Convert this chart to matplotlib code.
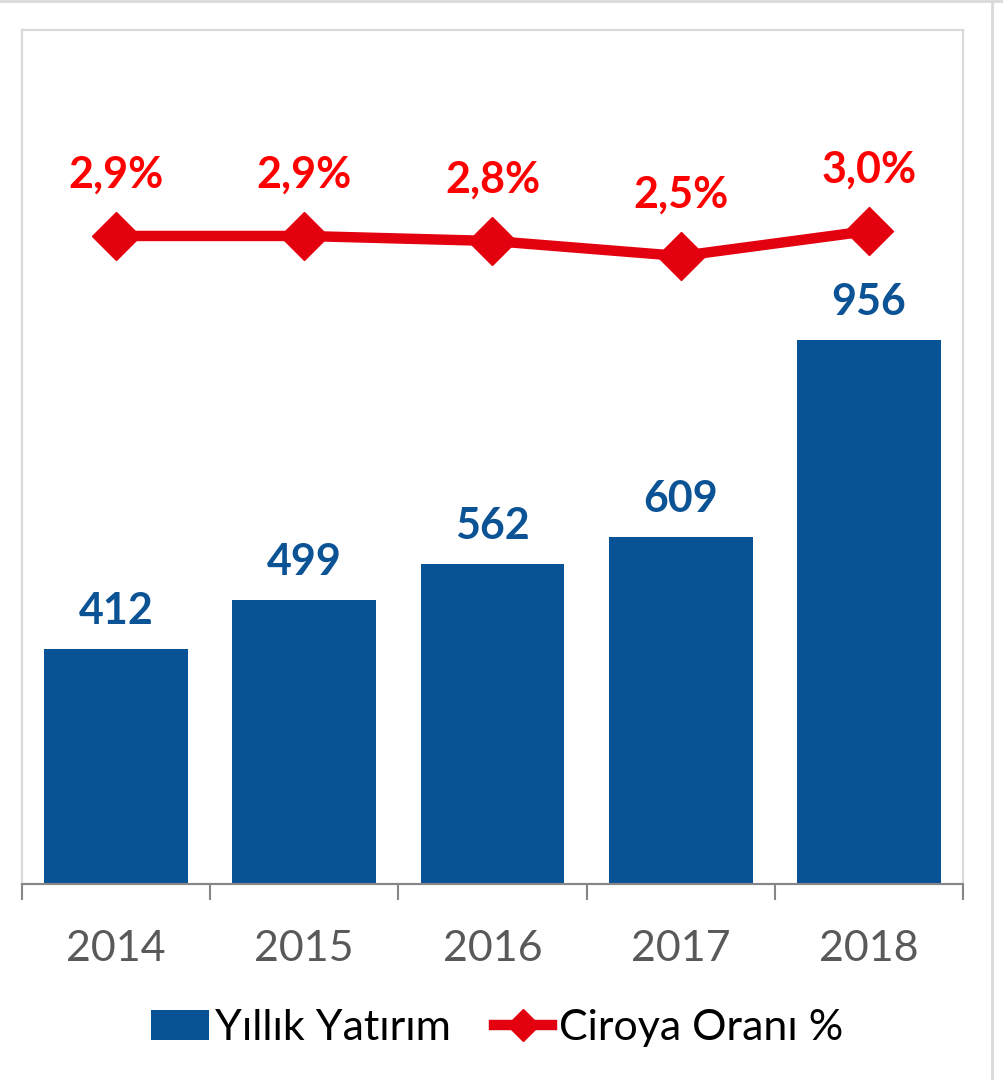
import matplotlib
matplotlib.use("Agg")
import matplotlib.pyplot as plt
from matplotlib.lines import Line2D
from matplotlib.patches import Patch

years = ["2014", "2015", "2016", "2017", "2018"]
investment = [412, 499, 562, 609, 956]
ratio = [2.9, 2.9, 2.8, 2.5, 3.0]
ratio_labels = ["2,9%", "2,9%", "2,8%", "2,5%", "3,0%"]
bar_name = "Yıllık Yatırım"
line_name = "Ciroya Oranı %"

BLUE = "#085296"
BLUE_TXT = "#0B5394"
RED_LINE = "#E3000F"
RED_TXT = "#FF0000"

plt.rcParams['font.family'] = ['Lato', 'DejaVu Sans']

W, H = 1004, 1080
fig = plt.figure(figsize=(W / 100, H / 100), dpi=100)
ax = fig.add_axes([22 / W, (H - 884) / H, (963 - 22) / W, (884 - 30) / H])
x = list(range(len(years)))

ax.bar(x, investment, width=0.765, color=BLUE, zorder=2)
ax.set_xlim(-0.5, len(years) - 0.5)
ax.set_ylim(0, 1500)
ax.set_yticks([])
for xi, v in zip(x, investment):
    ax.annotate(str(v), (xi, v), xytext=(0, 13), textcoords="offset points",
                ha="center", va="bottom", fontsize=31, fontweight="bold", color=BLUE_TXT)

ax2 = ax.twinx()
ax2.plot(x, ratio, color=RED_LINE, lw=7.5, marker="D", markersize=24, zorder=3)
ax2.set_ylim(-10, 7)
ax2.set_yticks([])
for xi, v, lab in zip(x, ratio, ratio_labels):
    ax2.annotate(lab, (xi, v), xytext=(0, 30), textcoords="offset points",
                 ha="center", va="bottom", fontsize=31, fontweight="bold", color=RED_TXT)

for a in (ax, ax2):
    for s in ("top", "left", "right"):
        a.spines[s].set_color("#D9D9D9")
        a.spines[s].set_linewidth(1.5)
    a.spines["bottom"].set_color("#868686")
    a.spines["bottom"].set_linewidth(1.5)

ax.set_xticks(x)
ax.set_xticklabels(years, fontsize=31, color="#595959")
ax.tick_params(axis="x", which="major", length=0, pad=33)
ax.set_xticks([i - 0.5 for i in range(len(years) + 1)], minor=True)
ax.tick_params(axis="x", which="minor", length=11.5, width=1.5, color="#868686")

handles = [Patch(facecolor=BLUE, edgecolor="none"),
           Line2D([0], [0], color=RED_LINE, lw=7.5, marker="D", markersize=16)]
fig.legend(handles, [bar_name, line_name], loc="center", bbox_to_anchor=(497 / W, (H - 1028) / H),
           ncol=2, frameon=False, fontsize=31, handlelength=1.35, handletextpad=0.15,
           columnspacing=1.0, labelcolor="black")

fig.add_artist(Line2D([0, 1], [1 - 1 / H, 1 - 1 / H], color="#D9D9D9", lw=2))
fig.add_artist(Line2D([992 / W, 992 / W], [0, 1], color="#D9D9D9", lw=2))

fig.savefig("out.png", dpi=100)
